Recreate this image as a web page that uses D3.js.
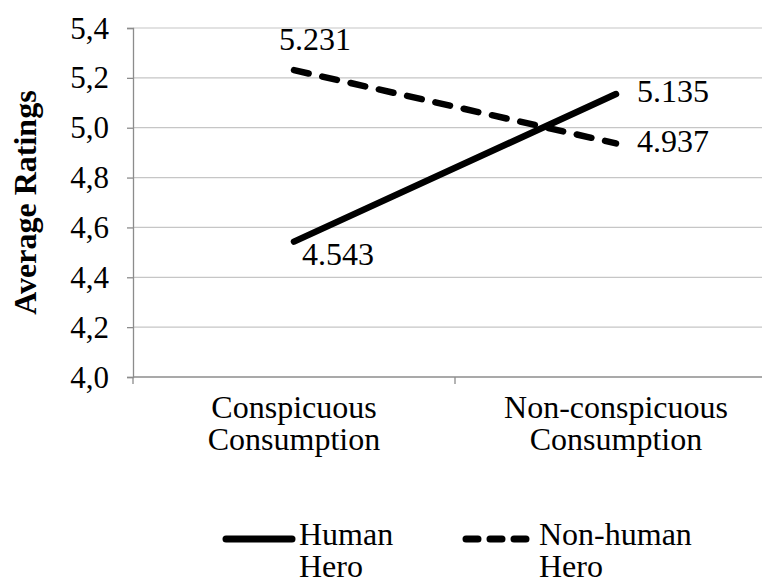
<!DOCTYPE html>
<html>
<head>
<meta charset="utf-8">
<script src="https://cdn.jsdelivr.net/npm/d3@7"></script>
<style>
  svg text { font-family: "Liberation Serif", "Times New Roman", Tinos, serif !important; }
</style>
</head>
<body style="margin:0">
<svg id="chart" width="762" height="579" font-family="Times New Roman"></svg>
<script>
    const categories = [["Conspicuous", "Consumption"], ["Non-conspicuous", "Consumption"]];
    const seriesNames = [["Human", "Hero"], ["Non-human", "Hero"]];
    const humanHero = [4.543, 5.135];
    const nonHumanHero = [5.231, 4.937];
    const yTicks = [4.0, 4.2, 4.4, 4.6, 4.8, 5.0, 5.2, 5.4];

    const FONT = 32;
    const svg = d3.select('#chart');

    const plotLeft = 133, plotRight = 777, plotTop = 28, plotBottom = 377;

    const x = d3.scaleBand().domain([0, 1]).range([plotLeft, plotRight]);
    const y = d3.scaleLinear().domain([4.0, 5.4]).range([plotBottom, plotTop]);
    const cx = (i) => x(i) + x.bandwidth() / 2;

    const comma = d3.formatLocale({decimal: ',', thousands: '.', grouping: [3], currency: ['', '']}).format('.1f');

    function serif(sel) {
        sel.style('font-family', (d) => '"Times New Roman"');
    }

    // gridlines
    svg.append('g').selectAll('line')
        .data(yTicks.slice(1))
        .enter().append('line')
        .attr('x1', plotLeft).attr('x2', plotRight)
        .attr('y1', (d) => y(d)).attr('y2', (d) => y(d))
        .attr('stroke', '#c6c6c6').attr('stroke-width', 1.2);

    // y axis lines from d3.axisLeft, labels drawn as plain text
    const yAxis = svg.append('g')
        .attr('transform', `translate(${plotLeft},0)`)
        .call(d3.axisLeft(y).tickValues(yTicks).tickFormat('').tickSizeOuter(0).tickSize(6));
    yAxis.attr('font-family', null).attr('font-size', null);
    yAxis.select('.domain').attr('stroke', '#8c8c8c').attr('stroke-width', 1.3);
    yAxis.selectAll('.tick line').attr('stroke', '#8c8c8c').attr('stroke-width', 1.3);
    yAxis.selectAll('.tick text').remove();

    svg.selectAll('text.ytick')
        .data(yTicks)
        .enter().append('text')
        .attr('class', 'ytick')
        .attr('x', plotLeft - 24)
        .attr('y', (d) => y(d))
        .attr('dy', '0.34em')
        .attr('text-anchor', 'end')
        .attr('font-size', 31)
        .call(serif)
        .text((d) => comma(d));

    // x axis
    svg.append('line')
        .attr('x1', plotLeft).attr('x2', plotRight).attr('y1', plotBottom).attr('y2', plotBottom)
        .attr('stroke', '#8c8c8c').attr('stroke-width', 1.3);
    svg.selectAll('line.xtick')
        .data([0, 1, 2])
        .enter().append('line')
        .attr('class', 'xtick')
        .attr('x1', (d) => plotLeft + d * x.bandwidth()).attr('x2', (d) => plotLeft + d * x.bandwidth())
        .attr('y1', plotBottom).attr('y2', plotBottom + 7)
        .attr('stroke', '#8c8c8c').attr('stroke-width', 1.3);

    // category labels, one text per line
    const catLines = [];
    categories.forEach((c, i) => c.forEach((t, j) => catLines.push({t: t, i: i, j: j})));
    svg.selectAll('text.cat')
        .data(catLines)
        .enter().append('text')
        .attr('class', 'cat')
        .attr('x', (d) => cx(d.i))
        .attr('y', (d) => 418 + d.j * 32)
        .attr('text-anchor', 'middle')
        .attr('font-size', FONT)
        .call(serif)
        .text((d) => d.t);

    // axis title
    svg.append('text')
        .attr('transform', `translate(36,${(plotTop + plotBottom) / 2}) rotate(-90)`)
        .attr('text-anchor', 'middle')
        .attr('font-size', FONT)
        .attr('font-weight', 'bold')
        .call(serif)
        .text('Average Ratings');

    // lines
    const lineGen = d3.line().x((d, i) => cx(i)).y((d) => y(d));

    svg.append('path')
        .datum(humanHero)
        .attr('d', lineGen)
        .attr('fill', 'none').attr('stroke', '#000')
        .attr('stroke-width', 6.5).attr('stroke-linecap', 'round');

    svg.append('path')
        .datum(nonHumanHero)
        .attr('d', lineGen)
        .attr('fill', 'none').attr('stroke', '#000')
        .attr('stroke-width', 6.5).attr('stroke-linecap', 'round')
        .attr('stroke-dasharray', '15,14');

    // data labels
    const fmt = d3.format('.3f');
    const labelOffsets = {
        human: [[8, 23], [21, 8]],
        nonHuman: [[-15, -20], [21, 9]]
    };
    function addLabels(values, offsets, cls) {
        svg.selectAll('text.' + cls)
            .data(values)
            .enter().append('text')
            .attr('class', cls)
            .attr('x', (d, i) => cx(i) + offsets[i][0])
            .attr('y', (d, i) => y(d) + offsets[i][1])
            .attr('font-size', FONT)
            .call(serif)
            .text((d) => fmt(d));
    }
    addLabels(humanHero, labelOffsets.human, 'lblh');
    addLabels(nonHumanHero, labelOffsets.nonHuman, 'lbln');

    // legend
    const legendX = [223, 463];
    const legendY = 539;
    svg.selectAll('line.key')
        .data(seriesNames)
        .enter().append('line')
        .attr('class', 'key')
        .attr('x1', (d, i) => legendX[i] + 3).attr('x2', (d, i) => legendX[i] + 69)
        .attr('y1', legendY).attr('y2', legendY)
        .attr('stroke', '#000').attr('stroke-width', 7)
        .attr('stroke-linecap', 'round')
        .attr('stroke-dasharray', (d, i) => i === 1 ? '12,12' : null);

    const keyLines = [];
    seriesNames.forEach((s, i) => s.forEach((t, j) => keyLines.push({t: t, i: i, j: j})));
    svg.selectAll('text.keytext')
        .data(keyLines)
        .enter().append('text')
        .attr('class', 'keytext')
        .attr('x', (d) => legendX[d.i] + 76)
        .attr('y', (d) => legendY + 6 + d.j * 32)
        .attr('font-size', FONT)
        .call(serif)
        .text((d) => d.t);
</script>
</body>
</html>
